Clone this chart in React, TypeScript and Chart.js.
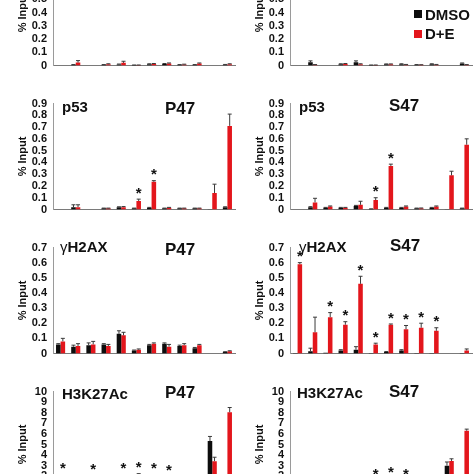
import React, { useEffect, useRef } from 'react';
import { Chart, registerables } from 'chart.js';
Chart.register(...registerables);

// ---------- DATA ----------
const categories = ['R1', 'R2', 'R3', 'R4', 'R5', 'R6', 'R7', 'R8', 'R9', 'R10', 'R11', 'R12'];

// Row 1 (antibody label cropped)
const topP47Dmso = [null, 0.005, null, 0.005, 0.008, 0.003, 0.01, 0.012, 0.005, 0.005, null, 0.006];
const topP47De = [null, 0.022, null, 0.01, 0.02, 0.003, 0.012, 0.015, 0.008, 0.015, null, 0.01];
const topP47DmsoErr = [0, 0.002, 0, 0.002, 0.003, 0.001, 0.003, 0.003, 0.002, 0.002, 0, 0.002];
const topP47DeErr = [0, 0.015, 0, 0.003, 0.012, 0.001, 0.003, 0.004, 0.002, 0.004, 0, 0.003];
const topP47Stars: number[] = [];

const topS47Dmso = [null, 0.025, null, 0.01, 0.025, 0.003, 0.01, 0.01, 0.005, 0.01, null, 0.015];
const topS47De = [null, 0.005, null, 0.012, 0.01, 0.003, 0.01, 0.006, 0.005, 0.006, null, 0.005];
const topS47DmsoErr = [0, 0.01, 0, 0.003, 0.01, 0.001, 0.002, 0.003, 0.002, 0.003, 0, 0.004];
const topS47DeErr = [0, 0.002, 0, 0.003, 0.003, 0.001, 0.002, 0.002, 0.001, 0.002, 0, 0.002];
const topS47Stars: number[] = [];

// p53
const p53P47Dmso = [null, 0.02, null, 0.01, 0.02, 0.01, 0.015, 0.01, 0.01, 0.01, 0.003, 0.02];
const p53P47De = [null, 0.02, null, 0.01, 0.02, 0.072, 0.235, 0.015, 0.01, 0.01, 0.14, 0.71];
const p53P47DmsoErr = [0, 0.02, 0, 0.002, 0.003, 0.002, 0.003, 0.002, 0.002, 0.002, 0, 0.003];
const p53P47DeErr = [0, 0.02, 0, 0.002, 0.005, 0.016, 0.01, 0.003, 0.002, 0.002, 0.075, 0.1];
const p53P47Stars = [5, 6];

const p53S47Dmso = [null, 0.02, 0.015, 0.015, 0.03, 0.005, 0.015, 0.015, 0.01, 0.015, 0.003, 0.01];
const p53S47De = [null, 0.06, 0.025, 0.015, 0.04, 0.08, 0.37, 0.025, 0.01, 0.025, 0.29, 0.55];
const p53S47DmsoErr = [0, 0.004, 0.003, 0.003, 0.005, 0.001, 0.003, 0.003, 0.002, 0.003, 0, 0.002];
const p53S47DeErr = [0, 0.035, 0.005, 0.003, 0.03, 0.02, 0.015, 0.005, 0.003, 0.005, 0.035, 0.05];
const p53S47Stars = [5, 6];

// γH2AX
const h2axP47Dmso = [0.06, 0.045, 0.055, 0.06, 0.13, 0.02, 0.055, 0.065, 0.05, 0.035, null, 0.01];
const h2axP47De = [0.08, 0.05, 0.06, 0.05, 0.12, 0.025, 0.065, 0.045, 0.055, 0.055, null, 0.015];
const h2axP47DmsoErr = [0.005, 0.01, 0.015, 0.005, 0.02, 0.003, 0.005, 0.005, 0.005, 0.005, 0, 0.002];
const h2axP47DeErr = [0.02, 0.015, 0.02, 0.01, 0.02, 0.005, 0.005, 0.015, 0.01, 0.005, 0, 0.003];
const h2axP47Stars: number[] = [];

const h2axS47Dmso = [0.003, 0.015, 0.005, 0.02, 0.025, 0.003, 0.01, 0.02, 0.003, 0.003, null, 0.003];
const h2axS47De = [0.59, 0.14, 0.24, 0.19, 0.46, 0.06, 0.19, 0.16, 0.17, 0.15, null, 0.02];
const h2axS47DmsoErr = [0, 0.02, 0, 0.005, 0.02, 0, 0.003, 0.005, 0, 0, 0, 0];
const h2axS47DeErr = [0.01, 0.1, 0.03, 0.02, 0.05, 0.008, 0.005, 0.025, 0.03, 0.02, 0, 0.01];
const h2axS47Stars = [0, 2, 3, 4, 5, 6, 7, 8, 9];

// H3K27Ac
const acP47Dmso = [0.6, 0.5, 0.7, 0.6, 0.8, 0.5, 0.6, 0.5, 0.7, 0.6, 5.33, 0.4];
const acP47De = [1.95, 0.9, 1.9, 1.0, 1.95, 2.0, 1.95, 1.85, 1.1, 1.0, 3.43, 8.04];
const acP47DmsoErr = [0.1, 0.1, 0.1, 0.1, 0.1, 0.1, 0.1, 0.1, 0.1, 0.1, 0.43, 0.05];
const acP47DeErr = [0.2, 0.1, 0.2, 0.1, 0.2, 0.25, 0.2, 0.15, 0.1, 0.1, 0.37, 0.45];
const acP47Stars = [0, 2, 4, 5, 6, 7];

const acS47Dmso = [0.5, 0.6, 0.4, 0.5, 0.6, 0.4, 0.5, 0.4, 0.5, 0.4, 3.0, 0.3];
const acS47De = [0.8, 0.9, 0.7, 0.8, 0.9, 1.45, 1.65, 1.45, 0.9, 0.8, 3.45, 6.3];
const acS47DmsoErr = [0.1, 0.1, 0.1, 0.1, 0.1, 0.1, 0.1, 0.1, 0.1, 0.1, 0.35, 0.05];
const acS47DeErr = [0.1, 0.1, 0.1, 0.1, 0.1, 0.15, 0.18, 0.15, 0.1, 0.1, 0.2, 0.15];
const acS47Stars = [5, 6, 7];

const seriesNames = ['DMSO', 'D+E'];

// ---------- STYLE / LAYOUT ----------
const BLACK = '#0d0d0d';
const RED = '#e3161c';
const FONT = '"Liberation Sans", Arial, sans-serif';
const PLOT_H = 109;
const PAD = 10;
const AXIS_W = 53;

type PanelCfg = {
  col: 0 | 1;
  bottom: number;
  max: number;
  step: number;
  dmso: (number | null)[];
  de: (number | null)[];
  dmsoErr: number[];
  deErr: number[];
  stars: number[];
};

const panels: PanelCfg[] = [
  { col: 0, bottom: 67, max: 0.8, step: 0.1, dmso: topP47Dmso, de: topP47De, dmsoErr: topP47DmsoErr, deErr: topP47DeErr, stars: topP47Stars },
  { col: 1, bottom: 67, max: 0.8, step: 0.1, dmso: topS47Dmso, de: topS47De, dmsoErr: topS47DmsoErr, deErr: topS47DeErr, stars: topS47Stars },
  { col: 0, bottom: 211, max: 0.9, step: 0.1, dmso: p53P47Dmso, de: p53P47De, dmsoErr: p53P47DmsoErr, deErr: p53P47DeErr, stars: p53P47Stars },
  { col: 1, bottom: 211, max: 0.9, step: 0.1, dmso: p53S47Dmso, de: p53S47De, dmsoErr: p53S47DmsoErr, deErr: p53S47DeErr, stars: p53S47Stars },
  { col: 0, bottom: 355, max: 0.7, step: 0.1, dmso: h2axP47Dmso, de: h2axP47De, dmsoErr: h2axP47DmsoErr, deErr: h2axP47DeErr, stars: h2axP47Stars },
  { col: 1, bottom: 355, max: 0.7, step: 0.1, dmso: h2axS47Dmso, de: h2axS47De, dmsoErr: h2axS47DmsoErr, deErr: h2axS47DeErr, stars: h2axS47Stars },
  { col: 0, bottom: 499, max: 10, step: 1, dmso: acP47Dmso, de: acP47De, dmsoErr: acP47DmsoErr, deErr: acP47DeErr, stars: acP47Stars },
  { col: 1, bottom: 499, max: 10, step: 1, dmso: acS47Dmso, de: acS47De, dmsoErr: acS47DmsoErr, deErr: acS47DeErr, stars: acS47Stars },
];

const colGeom = [
  { left: 0, width: 240, padRight: 5 },
  { left: 237, width: 237, padRight: 2 },
];

const errorBarPlugin = {
  id: 'errorBars',
  afterDatasetsDraw(chart: any) {
    const ctx = chart.ctx;
    const ys = chart.scales.y;
    ctx.save();
    chart.data.datasets.forEach((ds: any, i: number) => {
      const meta = chart.getDatasetMeta(i);
      meta.data.forEach((el: any, j: number) => {
        const v = ds.data[j];
        const e = ds.errors ? ds.errors[j] : 0;
        if (v == null) return;
        let top = el.y;
        if (e) {
          top = ys.getPixelForValue(v + e);
          ctx.strokeStyle = '#3a3a3a';
          ctx.lineWidth = 1;
          ctx.beginPath();
          ctx.moveTo(el.x, el.y);
          ctx.lineTo(el.x, top);
          ctx.moveTo(el.x - 2, top);
          ctx.lineTo(el.x + 2, top);
          ctx.stroke();
        }
        if (ds.stars && ds.stars.includes(j)) {
          const fs = 15;
          const cy = top - 10;
          ctx.fillStyle = '#111';
          ctx.font = `bold ${fs}px ${FONT}`;
          ctx.textAlign = 'center';
          ctx.textBaseline = 'alphabetic';
          ctx.fillText('*', el.x, cy + fs * 0.57);
        }
      });
    });
    ctx.restore();
  },
};

function Panel({ cfg }: { cfg: PanelCfg }) {
  const ref = useRef<HTMLCanvasElement>(null);
  const g = colGeom[cfg.col];
  useEffect(() => {
    const chart = new Chart(ref.current as HTMLCanvasElement, {
      type: 'bar',
      data: {
        labels: categories,
        datasets: [
          { label: seriesNames[0], data: cfg.dmso, backgroundColor: BLACK, errors: cfg.dmsoErr, stars: [] } as any,
          { label: seriesNames[1], data: cfg.de, backgroundColor: RED, errors: cfg.deErr, stars: cfg.stars } as any,
        ],
      },
      options: {
        responsive: false,
        animation: false,
        devicePixelRatio: 1,
        layout: { padding: { left: 0, right: g.padRight, top: PAD, bottom: PAD } },
        plugins: { legend: { display: false }, tooltip: { enabled: false } },
        datasets: { bar: { categoryPercentage: 0.6, barPercentage: 1 } },
        scales: {
          x: {
            grid: { display: false },
            ticks: { display: false },
            border: { display: true, color: '#7a7a7a', width: 1 },
            afterFit: (s: any) => { s.height = 0; },
          },
          y: {
            min: 0,
            max: cfg.max,
            ticks: { stepSize: cfg.step, autoSkip: false, padding: 6, color: '#111', font: { family: FONT, size: 11, weight: 'bold', lineHeight: 1 } },
            grid: { display: false, drawTicks: false },
            border: { display: true, color: '#9a9a9a', width: 1 },
            title: { display: true, text: '% Input', color: '#111', font: { family: FONT, size: 11, weight: 'bold' }, padding: { top: 16, bottom: 0 } },
            afterFit: (s: any) => { s.width = AXIS_W; },
          },
        },
      } as any,
      plugins: [errorBarPlugin],
    });
    return () => chart.destroy();
  }, []);
  return (
    <canvas
      ref={ref}
      width={g.width}
      height={PLOT_H + 2 * PAD}
      style={{ position: 'absolute', left: g.left, top: cfg.bottom - PLOT_H - PAD, width: g.width, height: PLOT_H + 2 * PAD }}
    />
  );
}

function Label({ x, cy, size, children }: { x: number; cy: number; size: number; children: React.ReactNode }) {
  return (
    <div style={{ position: 'absolute', left: x, top: cy - size * 0.49, fontFamily: FONT, fontWeight: 'bold', fontSize: size, lineHeight: `${size}px`, color: '#111', whiteSpace: 'nowrap' }}>
      {children}
    </div>
  );
}

const gamma = <span style={{ fontWeight: 'normal' }}>γ</span>;

export default function App() {
  return (
    <div style={{ position: 'fixed', left: 0, top: 0, width: 474, height: 474, overflow: 'hidden', background: '#fff' }}>
      {panels.map((p, i) => <Panel key={i} cfg={p} />)}
      {/* panel titles */}
      <Label x={62} cy={106.5} size={15}>p53</Label>
      <Label x={165} cy={108} size={17}>P47</Label>
      <Label x={299} cy={106} size={15}>p53</Label>
      <Label x={389} cy={105} size={17}>S47</Label>
      <Label x={60} cy={246} size={15}>{gamma}H2AX</Label>
      <Label x={165} cy={249} size={17}>P47</Label>
      <Label x={299} cy={246} size={15}>{gamma}H2AX</Label>
      <Label x={390} cy={245} size={17}>S47</Label>
      <Label x={62} cy={393} size={15}>H3K27Ac</Label>
      <Label x={165} cy={392.5} size={17}>P47</Label>
      <Label x={297} cy={392} size={15}>H3K27Ac</Label>
      <Label x={389} cy={391} size={17}>S47</Label>
      {/* legend */}
      <div style={{ position: 'absolute', left: 414, top: 10, width: 8, height: 8, background: BLACK }} />
      <Label x={425} cy={14.5} size={15}>{seriesNames[0]}</Label>
      <div style={{ position: 'absolute', left: 414, top: 30, width: 8, height: 8, background: RED }} />
      <Label x={425} cy={33.5} size={15}>{seriesNames[1]}</Label>
    </div>
  );
}
